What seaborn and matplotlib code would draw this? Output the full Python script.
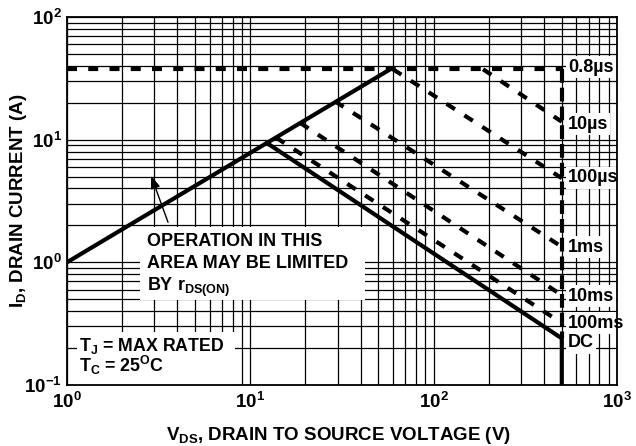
import seaborn as sns
import matplotlib.pyplot as plt
from matplotlib.patches import Rectangle
from matplotlib.ticker import LogLocator, NullFormatter

# Safe operating area
rds_v = [1, 58]                 # r_DS(on) limit
rds_i = [1.0, 37.5]

cur_v = [1, 500]                # 0.8us pulse: current limit
cur_i = [37.5, 37.5]
bv_v = [500, 500]               # 0.8us pulse: voltage limit
bv_i = [37.5, 0.24]

dc_v = [12.3, 500, 500]
dc_i = [9.4, 0.24, 0.1]

pulse_names = ['10µs', '100µs', '1ms', '10ms', '100ms']
pulse_v0 = [186, 60, 29, 18.7, 13.8]
pulse_i0 = [37.5, 37.5, 20.5, 13.7, 10.4]
pulse_v1 = [500, 500, 500, 500, 500]
pulse_i1 = [14.0, 4.85, 1.34, 0.54, 0.32]

label_text = ['0.8µs', '10µs', '100µs', '1ms', '10ms', '100ms', 'DC']
label_i = [39, 13.4, 4.87, 1.33, 0.53, 0.32, 0.22]

xticks = [1, 10, 100, 1000]
xtick_labels = ['$10^{0}$', '$10^{1}$', '$10^{2}$', '$10^{3}$']
yticks = [0.1, 1, 10, 100]
ytick_labels = ['$10^{-1}$', '$10^{0}$', '$10^{1}$', '$10^{2}$']

sns.set_theme(style='white')
plt.rcParams['font.family'] = ['Liberation Sans', 'DejaVu Sans']
plt.rcParams['font.weight'] = 'bold'
plt.rcParams['text.color'] = 'black'
plt.rcParams['axes.labelcolor'] = 'black'
plt.rcParams['mathtext.fontset'] = 'custom'
for k in ['rm', 'it', 'bf', 'sf']:
    plt.rcParams['mathtext.' + k] = 'Liberation Sans:bold'

fig = plt.figure(figsize=(6.36, 4.46), dpi=100)
ax = fig.add_axes([0.1053, 0.1368, 0.8648, 0.8251])
ax.set_xscale('log')
ax.set_yscale('log')

dash = (0, (2.4, 2.7))
line_kw = dict(ax=ax, color='black', lw=3, estimator=None, sort=False, zorder=3)
sns.lineplot(x=rds_v, y=rds_i, **line_kw)
sns.lineplot(x=dc_v, y=dc_i, **line_kw)
sns.lineplot(x=cur_v, y=cur_i, linestyle=dash, **line_kw)
sns.lineplot(x=bv_v, y=bv_i, linestyle=(0, (3.3, 1.2)), **line_kw)
for v0, i0, v1, i1 in zip(pulse_v0, pulse_i0, pulse_v1, pulse_i1):
    sns.lineplot(x=[v0, v1], y=[i0, i1], linestyle=dash, **line_kw)

ax.set_xlim(1, 1000)
ax.set_ylim(0.1, 100)
ax.set_xticks(xticks)
ax.set_xticklabels(xtick_labels)
ax.set_yticks(yticks)
ax.set_yticklabels(ytick_labels)
for axis in [ax.xaxis, ax.yaxis]:
    axis.set_minor_locator(LogLocator(base=10, subs=range(2, 10)))
    axis.set_minor_formatter(NullFormatter())
ax.tick_params(which='both', length=0, labelsize=13.5, colors='black')
ax.tick_params(axis='x', pad=5)
ax.tick_params(axis='y', pad=3.5)

ax.set_axisbelow(True)
ax.grid(True, which='both', color='black', lw=0.9)
for s in ax.spines.values():
    s.set_color('black')
    s.set_linewidth(1.3)

# pulse labels at the right edge
for txt, yi in zip(label_text, label_i):
    ax.text(540, yi, txt, ha='left', va='center', fontsize=13, fontweight='bold', zorder=2.5,
            bbox=dict(facecolor='white', edgecolor='none', pad=1.5))

# note boxes
ax.add_patch(Rectangle((0.1327, 0.231), 0.409, 0.198, transform=ax.transAxes,
                       facecolor='white', edgecolor='none', zorder=2))
note = ['OPERATION IN THIS', 'AREA MAY BE LIMITED', r'BY r$_{\mathrm{DS(ON)}}$']
for line, yb in zip(note, [0.378, 0.318, 0.255]):
    ax.text(0.1455, yb, line, transform=ax.transAxes, ha='left', va='baseline',
            fontsize=13, fontweight='bold', zorder=2.5)
ax.annotate('', xy=(2.84, 5.35), xytext=(3.6, 2.02),
            arrowprops=dict(arrowstyle='-|>,head_length=0.55,head_width=0.2',
                            color='black', lw=1, mutation_scale=14), zorder=2.5)

ax.add_patch(Rectangle((0.018, 0.0), 0.287, 0.144, transform=ax.transAxes,
                       facecolor='white', edgecolor='none', zorder=2))
cond = [r'T$_{\mathrm{J}}$ = MAX RATED', r'T$_{\mathrm{C}}$ = 25$^{\mathrm{O}}$C']
for line, yb in zip(cond, [0.0925, 0.035]):
    ax.text(0.022, yb, line, transform=ax.transAxes, ha='left', va='baseline',
            fontsize=12.8, fontweight='bold', zorder=2.5)

ax.set_xlabel(r'V$_{\mathrm{DS}}$, DRAIN TO SOURCE VOLTAGE (V)', fontsize=13.5,
              fontweight='bold', va='center')
ax.set_ylabel(r'I$_{\mathrm{D}}$, DRAIN CURRENT (A)', fontsize=13.5,
              fontweight='bold', va='center')
ax.xaxis.set_label_coords(0.494, -0.138)
ax.yaxis.set_label_coords(-0.088, 0.5)

fig.savefig('out.png', dpi=100)
